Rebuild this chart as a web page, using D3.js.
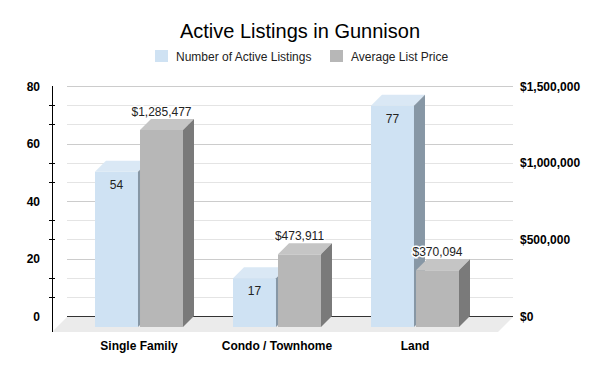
<!DOCTYPE html>
<html>
<head>
<meta charset="utf-8">
<script src="https://cdn.jsdelivr.net/npm/d3@7"></script>
<style>
  body { margin: 0; background: #fff; }
  text { font-family: "Liberation Sans", Arial, sans-serif; }
</style>
</head>
<body>
<script>
// chart data
const categories = ['Single Family', 'Condo / Townhome', 'Land']
const listings = [54, 17, 77]
const prices = [1285477, 473911, 370094]
const series = ['Number of Active Listings', 'Average List Price']
const leftTicks = [0, 20, 40, 60, 80]
const rightTicks = [0, 500000, 1000000, 1500000]

const width = 600, height = 371
const depth = 11 // 3d offset of the bars
const floorDepth = 15
const backLeft = 67, backRight = 513

const colors = {
  blue: { front: '#cfe2f3', top: '#dae8f5', side: '#8797a5' },
  gray: { front: '#b7b7b7', top: '#c5c5c5', side: '#7a7a7a' },
}

const svg = d3.select('body').append('svg')
  .attr('width', width)
  .attr('height', height)

// scales
const yLeft = d3.scaleLinear().domain([0, 80]).range([316, 86])
const yRight = d3.scaleLinear().domain([0, 1500000]).range([316, 86])
const x = d3.scalePoint().domain(categories).range([139, 415])
const xSub = d3.scaleBand().domain(series).range([-44, 44]).paddingInner(0.045)

// title
svg.append('text')
  .attr('x', 300).attr('y', 38)
  .attr('text-anchor', 'middle')
  .style('font-size', '20px')
  .text('Active Listings in Gunnison')

// legend
const legend = svg.append('g')
const legendItems = [
  { name: series[0], x: 155, color: colors.blue.front },
  { name: series[1], x: 330, color: colors.gray.front },
]
legendItems.forEach(function (d) {
  legend.append('rect').attr('x', d.x).attr('y', 50).attr('width', 13).attr('height', 12).attr('fill', d.color)
  legend.append('text').attr('x', d.x + 21).attr('y', 61).style('font-size', '12px').attr('fill', '#222').text(d.name)
})

// gridlines on back wall, 12 steps
const gridValues = d3.range(0, 1500001, 125000)
svg.append('g').selectAll('line')
  .data(gridValues)
  .enter().append('line')
  .attr('x1', backLeft).attr('x2', backRight)
  .attr('y1', d => Math.round(yRight(d)) + 0.5)
  .attr('y2', d => Math.round(yRight(d)) + 0.5)
  .attr('stroke', (d, i) => i % 3 === 0 ? '#cccccc' : '#e4e4e4')
  .attr('stroke-width', 1)

// floor
svg.append('path')
  .attr('d', `M${backLeft},317 L${backRight},317 L${backRight - floorDepth},${317 + floorDepth} L${backLeft - floorDepth},${317 + floorDepth} Z`)
  .attr('fill', '#ebebeb')

// baseline at zero
svg.append('line')
  .attr('x1', backLeft).attr('x2', backRight)
  .attr('y1', 316.5).attr('y2', 316.5)
  .attr('stroke', '#333').attr('stroke-width', 1)

// left axis
const leftAxis = svg.append('g')
leftAxis.append('line')
  .attr('x1', 52.5).attr('x2', 52.5)
  .attr('y1', 86).attr('y2', 332)
  .attr('stroke', '#000')
leftAxis.selectAll('line.tick')
  .data(gridValues.filter((d, i) => i % 3 !== 0))
  .enter().append('line')
  .attr('class', 'tick')
  .attr('x1', 49).attr('x2', 55)
  .attr('y1', d => Math.round(yRight(d)) + 0.5)
  .attr('y2', d => Math.round(yRight(d)) + 0.5)
  .attr('stroke', '#000')
leftAxis.selectAll('text')
  .data(leftTicks)
  .enter().append('text')
  .attr('x', 40).attr('y', d => yLeft(d) + 4.5)
  .attr('text-anchor', 'end')
  .style('font-size', '12px').style('font-weight', 'bold')
  .text(d => d)

// right axis labels
svg.append('g').selectAll('text')
  .data(rightTicks)
  .enter().append('text')
  .attr('x', 520).attr('y', d => yRight(d) + 4.5)
  .style('font-size', '12px').style('font-weight', 'bold')
  .text(d => '$' + d3.format(',')(d))

// 3d bar helper: (x0 = front left, yTop = back top in value plane)
function bar(g, x0, w, yTop, c) {
  const yBase = 316
  const fy = yTop + depth
  g.append('rect')
    .attr('x', x0).attr('y', fy)
    .attr('width', w).attr('height', yBase + depth - fy)
    .attr('fill', c.front)
  g.append('path')
    .attr('d', `M${x0},${fy} L${x0 + depth},${yTop} L${x0 + w + depth},${yTop} L${x0 + w},${fy} Z`)
    .attr('fill', c.top)
  g.append('path')
    .attr('d', `M${x0 + w},${fy} L${x0 + w + depth},${yTop} L${x0 + w + depth},${yBase} L${x0 + w},${yBase + depth} Z`)
    .attr('fill', c.side)
}

const bars = svg.append('g')
categories.forEach(function (cat, i) {
  const g = bars.append('g')
  const bx = x(cat) + xSub(series[0])
  const gx = x(cat) + xSub(series[1])
  const w = xSub.bandwidth()
  bar(g, bx, w, yLeft(listings[i]), colors.blue)
  bar(g, gx, w, yRight(prices[i]), colors.gray)
})

// data labels
const labels = svg.append('g').style('font-family', 'Roboto, sans-serif').style('font-size', '12px')
categories.forEach(function (cat, i) {
  const w = xSub.bandwidth()
  labels.append('text')
    .attr('x', x(cat) + xSub(series[0]) + w / 2)
    .attr('y', yLeft(listings[i]) + depth + 17)
    .attr('text-anchor', 'middle')
    .attr('fill', '#222')
    .text(listings[i])
  labels.append('text')
    .attr('x', x(cat) + xSub(series[1]) + w / 2)
    .attr('y', yRight(prices[i]) - 3)
    .attr('text-anchor', 'middle')
    .attr('fill', '#222')
    .attr('stroke', '#fff').attr('stroke-width', 3)
    .style('paint-order', 'stroke')
    .text('$' + d3.format(',')(prices[i]))
})

// category labels
svg.append('g').selectAll('text')
  .data(categories)
  .enter().append('text')
  .attr('x', d => x(d))
  .attr('y', 350)
  .attr('text-anchor', 'middle')
  .style('font-size', '12px').style('font-weight', 'bold')
  .text(d => d)
</script>
</body>
</html>
